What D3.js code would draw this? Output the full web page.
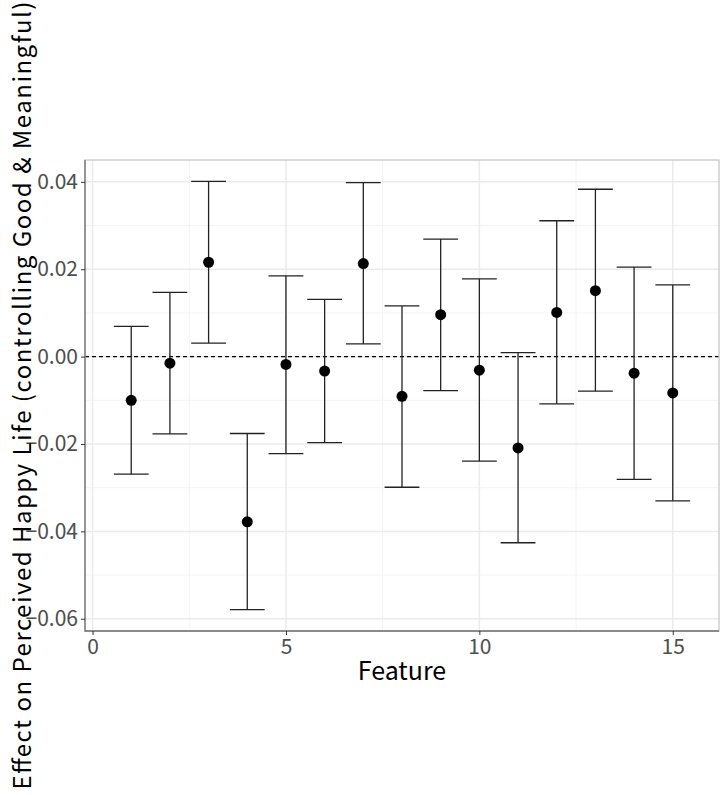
<!DOCTYPE html>
<html>
<head>
<meta charset="utf-8">
<script src="https://cdn.jsdelivr.net/npm/d3@7"></script>
<style>
  body { margin: 0; background: #fff; }
  svg { display: block; font-family: "Noto Sans CJK JP", "Noto Sans", sans-serif; }
</style>
</head>
<body>
<svg id="chart" width="721" height="795"></svg>
<script>
/* ---------- data ---------- */
const features  = [1, 2, 3, 4, 5, 6, 7, 8, 9, 10, 11, 12, 13, 14, 15];
const estimates = [-0.0100, -0.0015, 0.0216, -0.0378, -0.0018, -0.0033, 0.0213, -0.0091, 0.0096, -0.0031, -0.0209, 0.0101, 0.0151, -0.0038, -0.0083];
const upper     = [0.0069, 0.0147, 0.0401, -0.0176, 0.0185, 0.0131, 0.0398, 0.0116, 0.0269, 0.0178, 0.0009, 0.0311, 0.0383, 0.0205, 0.0164];
const lower     = [-0.0269, -0.0177, 0.0031, -0.0579, -0.0222, -0.0197, 0.0029, -0.0299, -0.0078, -0.0239, -0.0426, -0.0108, -0.0079, -0.0281, -0.0330];
const xTicks = [0, 5, 10, 15];
const xMinor = [2.5, 7.5, 12.5];
const yTicks = [0.04, 0.02, 0.00, -0.02, -0.04, -0.06];
const yMinor = [0.03, 0.01, -0.01, -0.03, -0.05];
const xTitle = "Feature";
const yTitle = "Effect on Perceived Happy Life (controlling Good & Meaningful)";

/* ---------- layout ---------- */
const P = {left: 85, right: 719, top: 160, bottom: 631};
const CAP = 0.9; // errorbar width, data units

const xLo = d3.min(features) - CAP / 2, xHi = d3.max(features) + CAP / 2;
const xPad = (xHi - xLo) * 0.05;
const yLo = d3.min(lower), yHi = d3.max(upper);
const yPad = (yHi - yLo) * 0.05;

const x = d3.scaleLinear().domain([xLo - xPad, xHi + xPad]).range([P.left, P.right]);
const y = d3.scaleLinear().domain([yLo - yPad, yHi + yPad]).range([P.bottom, P.top]);

const svg = d3.select("#chart");
const rows = features.map((f, i) => ({f, est: estimates[i], hi: upper[i], lo: lower[i]}));

/* ---------- grid ---------- */
const grid = svg.append("g");
grid.selectAll(".ymin").data(yMinor).join("line")
    .attr("x1", P.left).attr("x2", P.right)
    .attr("y1", d => y(d)).attr("y2", d => y(d))
    .attr("stroke", "#f3f3f3").attr("stroke-width", 1);
grid.selectAll(".xmin").data(xMinor).join("line")
    .attr("y1", P.top).attr("y2", P.bottom)
    .attr("x1", d => x(d)).attr("x2", d => x(d))
    .attr("stroke", "#f3f3f3").attr("stroke-width", 1);
grid.selectAll(".ymaj").data(yTicks).join("line")
    .attr("x1", P.left).attr("x2", P.right)
    .attr("y1", d => y(d)).attr("y2", d => y(d))
    .attr("stroke", "#ebebeb").attr("stroke-width", 1.5);
grid.selectAll(".xmaj").data(xTicks).join("line")
    .attr("y1", P.top).attr("y2", P.bottom)
    .attr("x1", d => x(d)).attr("x2", d => x(d))
    .attr("stroke", "#ebebeb").attr("stroke-width", 1.5);

/* ---------- zero line ---------- */
svg.append("line")
    .attr("x1", P.left).attr("x2", P.right)
    .attr("y1", y(0)).attr("y2", y(0))
    .attr("stroke", "#000").attr("stroke-width", 1.1)
    .attr("stroke-dasharray", "4,3");

/* ---------- error bars + points ---------- */
const eb = svg.append("g").attr("stroke", "#222").attr("stroke-width", 1.3);
eb.selectAll(".v").data(rows).join("line")
    .attr("x1", d => x(d.f)).attr("x2", d => x(d.f))
    .attr("y1", d => y(d.hi)).attr("y2", d => y(d.lo));
eb.selectAll(".t").data(rows).join("line")
    .attr("x1", d => x(d.f - CAP / 2)).attr("x2", d => x(d.f + CAP / 2))
    .attr("y1", d => y(d.hi)).attr("y2", d => y(d.hi));
eb.selectAll(".b").data(rows).join("line")
    .attr("x1", d => x(d.f - CAP / 2)).attr("x2", d => x(d.f + CAP / 2))
    .attr("y1", d => y(d.lo)).attr("y2", d => y(d.lo));

svg.append("g").selectAll("circle").data(rows).join("circle")
    .attr("cx", d => x(d.f)).attr("cy", d => y(d.est))
    .attr("r", 5.5).attr("fill", "#000");

/* ---------- panel border ---------- */
svg.append("rect")
    .attr("x", P.left).attr("y", P.top)
    .attr("width", P.right - P.left).attr("height", P.bottom - P.top)
    .attr("fill", "none").attr("stroke", "#c4c4c4").attr("stroke-width", 1.2);
svg.append("path")
    .attr("d", `M${P.left},${P.top}V${P.bottom}H${P.right}`)
    .attr("fill", "none").attr("stroke", "#707070").attr("stroke-width", 1.3);

/* ---------- axes ---------- */
const yAxis = svg.append("g").attr("transform", `translate(${P.left},0)`)
    .call(d3.axisLeft(y).tickValues(yTicks).tickFormat(d3.format(".2f")).tickSize(4).tickPadding(3));
const xAxis = svg.append("g").attr("transform", `translate(0,${P.bottom})`)
    .call(d3.axisBottom(x).tickValues(xTicks).tickSize(4).tickPadding(4));
[yAxis, xAxis].forEach(a => {
  a.select(".domain").remove();
  a.selectAll(".tick line").attr("stroke", "#333");
  a.selectAll(".tick text").attr("fill", "#4d4d4d")
      .style("font-size", "21px").style("font-family", '"Noto Sans CJK JP", sans-serif');
});
yAxis.selectAll(".tick text").text(d => d3.format(".2f")(d).replace("-", "\u2212"));

/* ---------- titles ---------- */
svg.append("text")
    .attr("x", (P.left + P.right) / 2).attr("y", 680)
    .attr("text-anchor", "middle")
    .style("font-size", "25px").attr("fill", "#000")
    .text(xTitle);

svg.append("text")
    .attr("transform", `translate(31,${(P.top + P.bottom) / 2}) rotate(-90)`)
    .attr("text-anchor", "middle")
    .attr("textLength", 788).attr("lengthAdjust", "spacing")
    .style("font-size", "24px").attr("fill", "#000")
    .text(yTitle);
</script>
</body>
</html>
